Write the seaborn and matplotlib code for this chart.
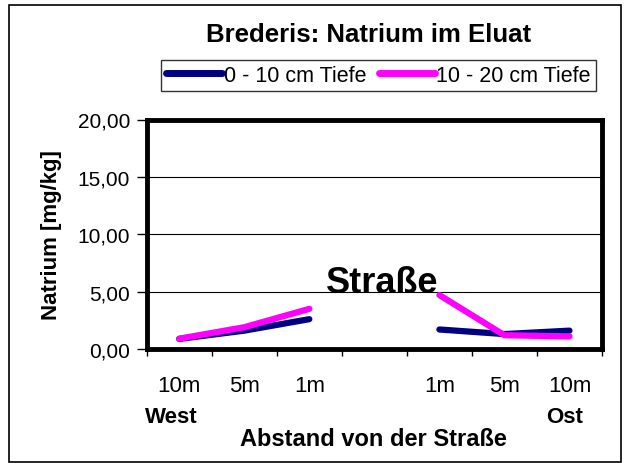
import matplotlib
matplotlib.use("Agg")
import matplotlib.pyplot as plt
import matplotlib.patches as patches
from matplotlib.ticker import FuncFormatter, FixedLocator
import numpy as np
import pandas as pd
import seaborn as sns

# ---------- data ----------
positions = ["10m", "5m", "1m", "", "1m", "5m", "10m"]
sides = ["West", "West", "West", None, "Ost", "Ost", "Ost"]
natrium_0_10 = [0.88, 1.6, 2.6, np.nan, 1.7, 1.3, 1.6]
natrium_10_20 = [0.9, 1.9, 3.5, np.nan, 4.7, 1.2, 1.1]
series_names = ["0 - 10 cm Tiefe", "10 - 20 cm Tiefe"]
series_colors = ["#000080", "#FF00FF"]
y_ticks = [0, 5, 10, 15, 20]

rows = []
for name, values in zip(series_names, [natrium_0_10, natrium_10_20]):
    for i, (side, v) in enumerate(zip(sides, values)):
        if side is None or np.isnan(v):
            continue
        rows.append({"pos": i, "natrium": v, "tiefe": name, "seite": side})
df = pd.DataFrame(rows)

sns.set_style("white")
plt.rcParams["font.family"] = ["Liberation Sans", "DejaVu Sans"]
plt.rcParams.update({"text.color": "black", "axes.labelcolor": "black",
                     "xtick.color": "black", "ytick.color": "black"})

W, H = 626, 464
fig = plt.figure(figsize=(W / 100, H / 100), dpi=100)
ax = fig.add_axes([146.7 / W, 1 - 350 / H, (602 - 146.7) / W, (350 - 120.5) / H])

sns.lineplot(data=df, x="pos", y="natrium", hue="tiefe", units="seite",
             estimator=None, palette=dict(zip(series_names, series_colors)),
             hue_order=series_names, linewidth=4.5, ax=ax, legend=False,
             solid_capstyle="round")

ax.set_xlim(-0.5, len(positions) - 0.5)
ax.set_ylim(0, 20)

# y axis
ax.yaxis.set_major_locator(FixedLocator(y_ticks))
ax.yaxis.set_major_formatter(FuncFormatter(lambda v, p: f"{v:.2f}".replace(".", ",")))
for y in y_ticks[1:-1]:
    ax.axhline(y, color="black", linewidth=0.8, zorder=0)

# x axis: labels at centres, tick marks between categories
ax.set_xticks(range(len(positions)))
ax.set_xticklabels(positions)
ax.set_xticks(np.arange(-0.5, len(positions), 1.0), minor=True)
ax.tick_params(axis="x", which="major", length=0, labelsize=16, pad=19)
ax.tick_params(axis="x", which="minor", length=5, width=1, direction="out")
ax.tick_params(axis="y", which="major", length=7, width=1,
               direction="out", labelsize=15, pad=5)
ax.tick_params(left=True, bottom=True, which="both")

for s in ax.spines.values():
    s.set_visible(True)
    s.set_color("black")
    s.set_linewidth(3.5)

ax.set_xlabel("")
ax.set_ylabel("")

ax.text(3.12, 4.95, "Straße", fontsize=26, fontweight="bold",
        ha="center", va="baseline", zorder=5)

# texts around the plot
fig.text(369 / W, 1 - 35.5 / H, "Brederis: Natrium im Eluat", fontsize=18.5,
         fontweight="bold", ha="center", va="center")
fig.text(52 / W, 1 - 235 / H, "Natrium [mg/kg]", fontsize=16, fontweight="bold",
         rotation=90, ha="center", va="center")
fig.text(373 / W, 1 - 440 / H, "Abstand von der Straße", fontsize=17,
         fontweight="bold", ha="center", va="center")
fig.text(171 / W, 1 - 417.5 / H, "West", fontsize=16, fontweight="bold",
         ha="center", va="center")
fig.text(565 / W, 1 - 417.5 / H, "Ost", fontsize=16, fontweight="bold",
         ha="center", va="center")

handles = [plt.Line2D([], [], color=c, linewidth=5, solid_capstyle="round")
           for c in series_colors]
leg = fig.legend(handles, series_names, loc="center", ncol=2,
                 bbox_to_anchor=(378.5 / W, 1 - 76.5 / H), fontsize=15.5,
                 frameon=True, fancybox=False, edgecolor="black",
                 handlelength=2.6, handletextpad=0.05, columnspacing=0.6,
                 borderpad=0.25)
leg.get_frame().set_linewidth(1)

fig.add_artist(patches.Rectangle((9 / W, 1 / H), (621 - 9) / W, (458 - 1) / H,
                                 transform=fig.transFigure, fill=False,
                                 edgecolor="black", linewidth=1.2))

fig.savefig("out.png", dpi=100)
